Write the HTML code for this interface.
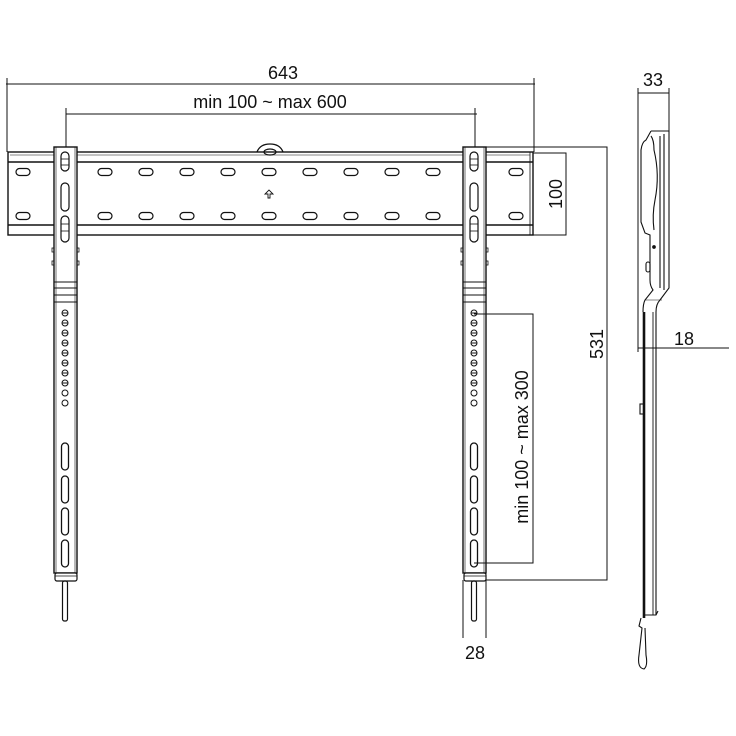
<!DOCTYPE html>
<html><head><meta charset="utf-8"><style>
html,body{margin:0;padding:0;background:#fff}
svg{display:block}
text{font-family:"Liberation Sans",sans-serif;fill:#111}
</style></head><body>
<svg width="736" height="736" viewBox="0 0 736 736" xmlns="http://www.w3.org/2000/svg">
<defs>
<g id="slot"><rect x="-7" y="-3.5" width="14" height="7" rx="3.5" fill="none" stroke="#111" stroke-width="1.2"/></g>
<g id="arm" fill="none" stroke="#111">
  <rect x="-11" y="147" width="23" height="426" stroke-width="1.4" fill="#fff"/>
  <line x1="-9" y1="147" x2="-9" y2="573" stroke-width="0.6"/>
  <line x1="10" y1="147" x2="10" y2="573" stroke-width="0.6"/>
  <rect x="-4" y="152" width="8" height="19" rx="4" stroke-width="1.2"/>
  <line x1="-4" y1="159" x2="4" y2="159" stroke-width="0.8"/><line x1="-4" y1="165" x2="4" y2="165" stroke-width="0.8"/>
  <rect x="-4" y="183" width="8" height="28" rx="4" stroke-width="1.2"/>
  <rect x="-4" y="216" width="8" height="26" rx="4" stroke-width="1.2"/>
  <line x1="-4" y1="224" x2="4" y2="224" stroke-width="0.8"/><line x1="-4" y1="231" x2="4" y2="231" stroke-width="0.8"/>
  <line x1="-11" y1="282" x2="12" y2="282" stroke-width="1"/>
  <line x1="-11" y1="288" x2="12" y2="288" stroke-width="1"/>
  <line x1="-11" y1="295" x2="12" y2="295" stroke-width="1"/>
  <line x1="-11" y1="302" x2="12" y2="302" stroke-width="1"/>
  <rect x="-13" y="248" width="2" height="4" stroke-width="0.8"/><rect x="-13" y="261" width="2" height="4" stroke-width="0.8"/>
  <rect x="12" y="248" width="2" height="4" stroke-width="0.8"/><rect x="12" y="261" width="2" height="4" stroke-width="0.8"/>
  <g stroke-width="1">
    <circle cx="0" cy="313" r="3"/><circle cx="0" cy="323" r="3"/><circle cx="0" cy="333" r="3"/><circle cx="0" cy="343" r="3"/><circle cx="0" cy="353" r="3"/><circle cx="0" cy="363" r="3"/><circle cx="0" cy="373" r="3"/><circle cx="0" cy="383" r="3"/><circle cx="0" cy="393" r="3"/><circle cx="0" cy="403" r="3"/>
    <line x1="-3" y1="313" x2="3" y2="313"/><line x1="-3" y1="323" x2="3" y2="323"/><line x1="-3" y1="333" x2="3" y2="333"/><line x1="-3" y1="343" x2="3" y2="343"/><line x1="-3" y1="353" x2="3" y2="353"/><line x1="-3" y1="363" x2="3" y2="363"/><line x1="-3" y1="373" x2="3" y2="373"/><line x1="-3" y1="383" x2="3" y2="383"/>
  </g>
  <g stroke-width="1.3">
    <rect x="-3.5" y="443" width="7" height="27" rx="3.5"/>
    <rect x="-3.5" y="476" width="7" height="27" rx="3.5"/>
    <rect x="-3.5" y="508" width="7" height="27" rx="3.5"/>
    <rect x="-3.5" y="540" width="7" height="27" rx="3.5"/>
  </g>
  <rect x="-10" y="573" width="22" height="8" rx="2" stroke-width="1.2" fill="#fff"/>
  <line x1="-10" y1="576" x2="12" y2="576" stroke-width="0.8"/>
  <rect x="-2.5" y="581" width="5" height="40" rx="2" stroke-width="1.2"/>
</g>
</defs>

<g fill="none" stroke="#111">
  <rect x="8" y="152" width="525" height="83" stroke-width="1.4"/>
  <line x1="8" y1="162" x2="533" y2="162" stroke-width="1.4"/>
  <line x1="8" y1="225" x2="533" y2="225" stroke-width="1.4"/>
  <line x1="10" y1="155" x2="530" y2="155" stroke-width="0.5"/>
  <line x1="530" y1="152" x2="530" y2="235" stroke-width="0.8"/>
  <path d="M257 152 Q260 144 270 144 Q280 144 283 152" stroke-width="1.3"/>
  <ellipse cx="270" cy="152" rx="6" ry="3" stroke-width="1.2"/>
  <path d="M269 198 v-4 h-3 l4 -4 l4 4 h-3 v4 z" stroke-width="0.9" transform="translate(-1,0)"/>
</g>
<g>
  <use href="#slot" x="23" y="172"/><use href="#slot" x="23" y="216"/>
  <use href="#slot" x="105" y="172"/><use href="#slot" x="105" y="216"/>
  <use href="#slot" x="146" y="172"/><use href="#slot" x="146" y="216"/>
  <use href="#slot" x="187" y="172"/><use href="#slot" x="187" y="216"/>
  <use href="#slot" x="228" y="172"/><use href="#slot" x="228" y="216"/>
  <use href="#slot" x="269" y="172"/><use href="#slot" x="269" y="216"/>
  <use href="#slot" x="310" y="172"/><use href="#slot" x="310" y="216"/>
  <use href="#slot" x="351" y="172"/><use href="#slot" x="351" y="216"/>
  <use href="#slot" x="392" y="172"/><use href="#slot" x="392" y="216"/>
  <use href="#slot" x="433" y="172"/><use href="#slot" x="433" y="216"/>
  <use href="#slot" x="516" y="172"/><use href="#slot" x="516" y="216"/>
</g>
<use href="#arm" x="65" y="0"/>
<use href="#arm" x="474" y="0"/>

<g stroke="#111" stroke-width="1" fill="none">
  <line x1="6" y1="84" x2="535" y2="84"/>
  <line x1="7" y1="78" x2="7" y2="152"/>
  <line x1="534" y1="78" x2="534" y2="152"/>
  <line x1="66" y1="114" x2="477" y2="114"/>
  <line x1="66" y1="108" x2="66" y2="147"/>
  <line x1="475" y1="108" x2="475" y2="147"/>
  <polyline points="533,153 566,153 566,235 533,235"/>
  <polyline points="486,147 607,147 607,580 486,580"/>
  <polyline points="474,314 533,314 533,563 474,563"/>
  <line x1="463" y1="580" x2="463" y2="638"/>
  <line x1="486" y1="580" x2="486" y2="638"/>
  <line x1="638" y1="93" x2="669" y2="93"/>
  <line x1="638" y1="88" x2="638" y2="352"/>
  <line x1="669" y1="88" x2="669" y2="131"/>
  <line x1="638" y1="348" x2="729" y2="348"/>
</g>
<g font-size="18">
  <text x="283" y="79" text-anchor="middle">643</text>
  <text x="270" y="108" text-anchor="middle">min 100 ~ max 600</text>
  <text x="562" y="194" text-anchor="middle" transform="rotate(-90 562 194)">100</text>
  <text x="603" y="344" text-anchor="middle" transform="rotate(-90 603 344)">531</text>
  <text x="528" y="447" text-anchor="middle" transform="rotate(-90 528 447)">min 100 ~ max 300</text>
  <text x="475" y="659" text-anchor="middle">28</text>
  <text x="653" y="86" text-anchor="middle">33</text>
  <text x="684" y="345" text-anchor="middle">18</text>
</g>

<g fill="none" stroke="#111" stroke-width="1.1">
  <path d="M651 131 H669 V288 L660 300 Q656 304 656 312 V615"/>
  <path d="M651 131 L646 140 Q642 142 641 150 V222 L645 233 L650 235 V280 Q650 286 653 290 L645 300 Q643 304 643 312"/>
  <line x1="660" y1="136" x2="660" y2="288"/>
  <line x1="664" y1="134" x2="664" y2="290"/>
  <path d="M651 136 Q654 140 654 150 Q660 175 655 200 Q652 215 654 230"/>
  <line x1="645" y1="300" x2="662" y2="300" stroke-width="0.6"/>
  <rect x="646" y="262" width="4" height="10" rx="2"/>
  <circle cx="654" cy="247" r="1.3" fill="#111"/>
  <line x1="644" y1="312" x2="644" y2="618" stroke-width="2.6"/>
  <line x1="653" y1="312" x2="653" y2="615" stroke-width="0.9"/>
  <rect x="640" y="404" width="4" height="10"/>
  <path d="M643 615 H656 L658 611"/>
  <path d="M641 618 L639 626 L642 628 L639 655 Q637 668 644 669 Q648 666 646 655 L645 628"/>
</g>
</svg>
</body></html>
